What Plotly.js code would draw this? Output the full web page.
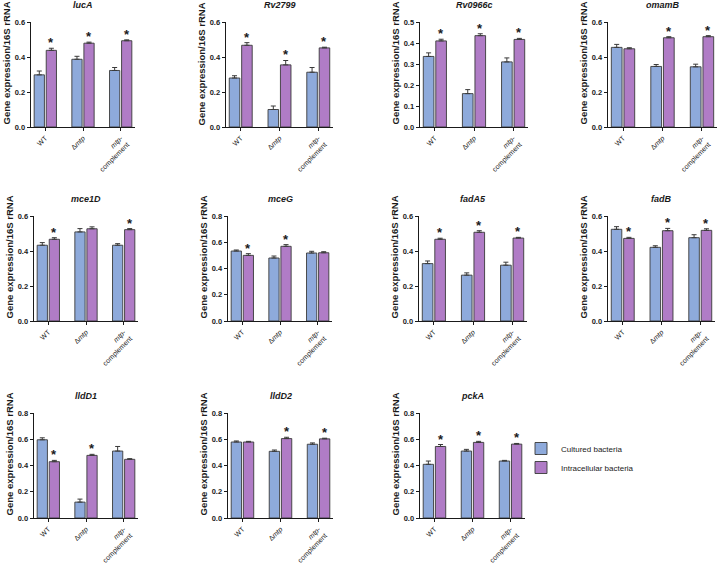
<!DOCTYPE html>
<html>
<head>
<meta charset="utf-8">
<script src="https://cdn.plot.ly/plotly-3.0.1.min.js"></script>
<style>
  html, body { margin: 0; padding: 0; background: #ffffff; }
  #chart { width: 719px; height: 565px; }
</style>
</head>
<body>
<div id="chart"></div>
<script>
// Strains on the x axis of every panel
const strains = ['WT', 'Δmtp', 'mtp-complement'];
const strainLabels = ['WT', 'Δ<i>mtp</i>', '<i>mtp-</i><br>complement'];

// Genes, one panel each
const genes = ['lucA', 'Rv2799', 'Rv0966c', 'omamB', 'mce1D', 'mceG',
               'fadA5', 'fadB', 'lldD1', 'lldD2', 'pckA'];

// Relative expression (gene / 16S rRNA), per gene: [WT, Δmtp, mtp-complement]
const culturedMean = [
  [0.298, 0.387, 0.323],
  [0.280, 0.100, 0.313],
  [0.336, 0.159, 0.310],
  [0.455, 0.346, 0.344],
  [0.433, 0.509, 0.433],
  [0.533, 0.480, 0.518],
  [0.328, 0.262, 0.319],
  [0.524, 0.421, 0.476],
  [0.596, 0.121, 0.510],
  [0.579, 0.508, 0.562],
  [0.409, 0.510, 0.434]
];
const culturedSEM = [
  [0.022, 0.017, 0.017],
  [0.013, 0.020, 0.027],
  [0.017, 0.019, 0.019],
  [0.017, 0.011, 0.015],
  [0.015, 0.019, 0.009],
  [0.008, 0.015, 0.013],
  [0.015, 0.013, 0.017],
  [0.015, 0.009, 0.017],
  [0.015, 0.023, 0.035],
  [0.008, 0.010, 0.010],
  [0.025, 0.013, 0.005]
];
const intracellularMean = [
  [0.438, 0.479, 0.493],
  [0.467, 0.355, 0.452],
  [0.410, 0.435, 0.417],
  [0.447, 0.510, 0.516],
  [0.467, 0.527, 0.522],
  [0.500, 0.569, 0.520],
  [0.467, 0.507, 0.474],
  [0.472, 0.516, 0.518],
  [0.429, 0.477, 0.447],
  [0.579, 0.605, 0.603],
  [0.545, 0.576, 0.563]
];
const intracellularSEM = [
  [0.012, 0.006, 0.005],
  [0.015, 0.025, 0.004],
  [0.008, 0.009, 0.005],
  [0.006, 0.006, 0.006],
  [0.009, 0.011, 0.006],
  [0.013, 0.013, 0.008],
  [0.006, 0.009, 0.004],
  [0.006, 0.013, 0.009],
  [0.010, 0.008, 0.005],
  [0.005, 0.010, 0.005],
  [0.015, 0.008, 0.005]
];
// Intracellular vs cultured significance marks
const significant = [
  [true, true, true],
  [true, true, true],
  [true, true, true],
  [false, true, true],
  [true, false, true],
  [true, true, false],
  [true, true, true],
  [true, true, true],
  [true, true, false],
  [false, true, true],
  [true, true, true]
];
// y axis extent and tick step per panel
const yMax  = [0.6, 0.6, 0.5, 0.6, 0.6, 0.8, 0.6, 0.6, 0.8, 0.8, 0.8];
const yStep = [0.2, 0.2, 0.1, 0.2, 0.2, 0.2, 0.2, 0.2, 0.2, 0.2, 0.2];

// Plot-area boxes in pixels: [left, right, top, bottom]
const W = 719, H = 565;
const panelBoxes = [
  [31, 135, 22, 127], [226, 333, 22, 127], [420, 528, 22, 127], [608, 717, 22, 127],
  [34, 138, 216, 321], [228, 332, 216, 321], [419, 527, 216, 321], [608, 715, 216, 321],
  [34, 138, 413, 518], [228, 333, 413, 518], [420, 525, 413, 518]
];

const FONT = 'Arial, "Liberation Sans", Helvetica, sans-serif';
const BLUE = '#8eaadb';
const PURPLE = '#b07cc6';
const EDGE = '#3a3a3a';
const INK = '#1a1a1a';

const traces = [];
const annotations = [];
const layout = {
  width: W, height: H,
  margin: { l: 0, r: 0, t: 0, b: 0 },
  paper_bgcolor: '#ffffff',
  plot_bgcolor: 'rgba(0,0,0,0)',
  barmode: 'group',
  bargap: 0.36,
  bargroupgap: 0.15,
  font: { family: FONT, color: INK },
  showlegend: true,
  legend: {
    x: 521 / W, xanchor: 'left',
    y: 1 - 434 / H, yanchor: 'top',
    font: { family: FONT, size: 8, color: INK },
    bgcolor: 'rgba(0,0,0,0)',
    tracegroupgap: 0
  },
  annotations: annotations
};

const px = v => v / W;
const py = v => 1 - v / H;

genes.forEach((gene, k) => {
  const n = k + 1;
  const xa = 'x' + (n === 1 ? '' : n);
  const ya = 'y' + (n === 1 ? '' : n);
  const [l, r, t, b] = panelBoxes[k];

  traces.push({
    type: 'bar', name: 'Cultured bacteria', legendgroup: 'c',
    showlegend: k === 0,
    x: strains, y: culturedMean[k], xaxis: xa, yaxis: ya,
    marker: { color: BLUE, line: { color: EDGE, width: 0.9 } },
    error_y: { type: 'data', symmetric: false, array: culturedSEM[k],
               arrayminus: culturedSEM[k].map(() => 0),
               color: EDGE, thickness: 1, width: 2.5 },
    hoverinfo: 'x+y'
  });
  traces.push({
    type: 'bar', name: 'Intracellular bacteria', legendgroup: 'i',
    showlegend: k === 0,
    x: strains, y: intracellularMean[k], xaxis: xa, yaxis: ya,
    marker: { color: PURPLE, line: { color: EDGE, width: 0.9 } },
    error_y: { type: 'data', symmetric: false, array: intracellularSEM[k],
               arrayminus: intracellularSEM[k].map(() => 0),
               color: EDGE, thickness: 1, width: 2.5 },
    hoverinfo: 'x+y'
  });

  layout['xaxis' + (n === 1 ? '' : n)] = {
    domain: [px(l), px(r)], anchor: ya,
    type: 'category', range: [-0.38, 2.38],
    tickvals: strains, ticktext: strainLabels,
    tickangle: -45,
    tickfont: { family: FONT, size: 7, color: INK },
    ticks: 'outside', ticklen: 3, tickwidth: 1, tickcolor: INK,
    showline: true, linecolor: INK, linewidth: 1.4,
    showgrid: false, zeroline: false, fixedrange: true
  };
  layout['yaxis' + (n === 1 ? '' : n)] = {
    domain: [py(b), py(t)], anchor: xa,
    range: [0, yMax[k]], dtick: yStep[k], tick0: 0, tickformat: '.1f',
    tickfont: { family: FONT, size: 7.5, color: INK, weight: 'bold' },
    ticks: 'outside', ticklen: 3, tickwidth: 1, tickcolor: INK,
    showline: true, linecolor: INK, linewidth: 1.4,
    showgrid: false, zeroline: false, fixedrange: true
  };

  // panel title (gene name)
  annotations.push({
    xref: 'paper', yref: 'paper', x: px((l + r) / 2), y: py(t - 17),
    xanchor: 'center', yanchor: 'middle', showarrow: false,
    text: '<i>' + gene + '</i>',
    font: { family: FONT, size: 9, color: INK, weight: 'bold' }
  });
  // y axis title
  annotations.push({
    xref: 'paper', yref: 'paper', x: px(l - 25), y: py(b),
    xanchor: 'center', yanchor: 'bottom', showarrow: false,
    textangle: -90,
    text: 'Gene expression/16S rRNA',
    font: { family: FONT, size: 9.5, color: INK, weight: 'bold' }
  });
  // significance marks above intracellular bars
  significant[k].forEach((sig, j) => {
    if (!sig) return;
    annotations.push({
      xref: xa, yref: ya, x: j + 0.16,
      y: intracellularMean[k][j] + intracellularSEM[k][j],
      xanchor: 'center', yanchor: 'bottom', yshift: -4, showarrow: false,
      text: '*',
      font: { family: FONT, size: 13, color: INK, weight: 'bold' }
    });
  });
});

Plotly.newPlot('chart', traces, layout, { displayModeBar: false, staticPlot: true });
</script>
</body>
</html>
